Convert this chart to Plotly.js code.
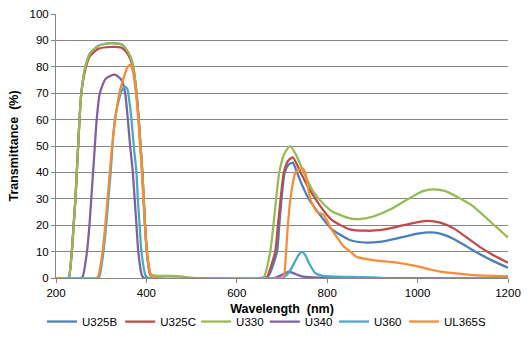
<!DOCTYPE html>
<html>
<head>
<meta charset="utf-8">
<script src="https://cdn.plot.ly/plotly-3.0.1.min.js"></script>
<style>html,body{margin:0;padding:0;background:#fff;}#chart{width:530px;height:360px;}</style>
</head>
<body>
<div id="chart"></div>
<script>
// Series names
const seriesNames = ["U325B", "U325C", "U330", "U340", "U360", "UL365S"];

// U325B
const u325bWl = [200,226,229,235,239,243,246,249,252,256,265,275,294,320,345,356,364,371,378,383,387,391,394,397,401,408,415,600,660,671,689,694,699,706,715,724,733,745,759,781,810,850,887,920,954,1000,1027,1050,1080,1110,1140,1170,1200];
const u325bT  = [0,0,0.5,10,20,30,40,50,60,70,80,85,88,89,88.5,86.4,84,80,70,60,50,40,30,20,10,1.5,0,0,0,1,10,20,30,40,43,43.7,40,35,30,24.6,18.5,14.4,13.4,13.8,15,16.8,17.3,16.8,14.8,11.8,8.8,6.2,3.9];

// U325C
const u325cWl = [200,226,229,235,239,243,246,249,252,256,265,275,294,320,345,356,364,371,378,383,387,391,394,397,401,408,415,600,665,669,685,691,697,704,714,724,741,756,774,790,810,850,887,920,954,990,1020,1050,1080,1110,1140,1170,1200];
const u325cT  = [0,0,0.5,10,20,30,40,50,60,70,79,84,86.8,87.5,87.2,85.5,83,79,70,60,50,40,30,20,10,1.5,0,0,0,1,10,20,30,40,44.5,45.7,40,35,30,26,22,18.4,17.9,18.2,19.4,20.8,21.6,21,18.8,15.2,11.5,8.4,5.8];

// U330
const u330Wl = [200,226,229,235,239,243,246,249,252,256,265,275,294,320,345,356,364,371,378,383,387,391,394,397,401,408,415,440,470,490,510,600,650,660,674,681,687,694,705,718,730,748,770,792,810,850,870,900,940,980,1010,1035,1060,1090,1120,1160,1200];
const u330T  = [0,0,0.5,10,20,30,40,50,60,70,80,85,88,89,88.5,86.5,84,80,70,60,50,40,30,20,10,2,1,0.8,0.7,0.3,0,0,0,0.5,10,20,30,40,47,50,47,40,32.5,28,25.3,22.6,22.3,23.2,26,30,32.8,33.6,33,30.5,27.5,21.5,15.3];

// U340
const u340Wl = [200,255,259,268.6,274,278,282,286,290,297,310,330,345,353,359,364,370,374,378,382,390,395,600,680,687,700,715,730,744,770,800,1200];
const u340T  = [0,0,0.5,10,20,30,40,50,60,70,75.5,77,75,70,60,50,40,30,20,10,1,0,0,0,0.2,1.2,2.4,1.5,0.6,0.2,0,0];

// U360
const u360Wl = [200,292,296,305,311,316,321,325,330,340,347,353,358,363,367,372,378,381,385,389,398,405,600,700,704,715,728,737,744,751,760,774,790,820,850,900,930,1200];
const u360T  = [0,0,0.5,10,20,30,40,50,60,68,71.5,72.5,71.5,66,60,50,40,30,20,10,1,0,0,0,0.3,2,6,8.8,9.9,8.8,5.5,1.8,0.8,0.5,0.4,0.2,0,0];

// UL365S
const ul365sWl = [200,289,293,303,309,314,319,324,331,340,350,357,364,369,377,382,386,390,393,397,401,410,416,600,700,704,709,713,718.5,730,740,746,752,762.5,777,792,810,821,836,850,865,902,954,998,1027,1050,1101,1123,1200];
const ul365sT  = [0,0,0.5,10,20,30,40,50,60,70,76,79.5,80.7,79,70,60,50,40,30,20,10,1,0,0,0,0.5,10,20,30,40,41.3,41.5,39.5,30,25.1,23.9,18.2,15.6,12,10.2,8,6.8,5.8,4.5,3.3,2.4,1.5,1.1,0.7];

// Axis ticks
const xTicks = [200, 400, 600, 800, 1000, 1200];
const yTicks = [0,10,20,30,40,50,60,70,80,90,100];

const colors = ["#4A7EBB", "#BE4B48", "#98B954", "#7D60A0", "#46AAC5", "#F68C36"];
const xs = [u325bWl, u325cWl, u330Wl, u340Wl, u360Wl, ul365sWl];
const ys = [u325bT, u325cT, u330T, u340T, u360T, ul365sT];
const legendIds = ["legend", "legend2", "legend3", "legend4", "legend5", "legend6"];
// left edge (paper fraction) of each legend entry
const legendX = [-0.031, 0.142, 0.310, 0.462, 0.615, 0.770];

const traces = seriesNames.map((n, i) => ({
  type: "scatter",
  mode: "lines",
  name: n,
  x: xs[i],
  y: ys[i],
  legend: legendIds[i],
  line: {color: colors[i], width: 2.25, shape: "spline", smoothing: 0.6},
  hoverinfo: "skip"
}));

const font = "Liberation Sans, Arial, sans-serif";
const layout = {
  width: 530, height: 360,
  margin: {l: 56, r: 22, t: 14, b: 82},
  paper_bgcolor: "#fff", plot_bgcolor: "#fff",
  font: {family: font, size: 11.5, color: "#000"},
  showlegend: true,
  xaxis: {
    range: [200, 1200], tickvals: xTicks, ticktext: xTicks.map(String),
    showgrid: false, zeroline: false,
    showline: true, linecolor: "#868686", linewidth: 1,
    ticks: "outside", ticklen: 4, tickcolor: "#868686",
    tickfont: {family: font, size: 11.5, color: "#000"},
    title: {text: "<b>Wavelength  (nm)</b>", font: {family: font, size: 12.5, color: "#000"}, standoff: 6}
  },
  yaxis: {
    range: [0, 100], tickvals: yTicks, ticktext: yTicks.map(String),
    showgrid: true, gridcolor: "#868686", gridwidth: 1, zeroline: false,
    showline: true, linecolor: "#868686", linewidth: 1,
    ticks: "outside", ticklen: 4, tickcolor: "#868686",
    tickfont: {family: font, size: 11.5, color: "#000"},
    title: {text: "<b>Transmittance  (%)</b>", font: {family: font, size: 12.5, color: "#000"}, standoff: 8}
  }
};
legendIds.forEach((id, i) => {
  layout[id] = {
    orientation: "h", x: legendX[i], xanchor: "left", y: -0.11, yanchor: "top",
    font: {family: font, size: 11.5, color: "#000"},
    bgcolor: "rgba(0,0,0,0)", itemwidth: 30
  };
});

Plotly.newPlot("chart", traces, layout, {displayModeBar: false, staticPlot: true});
</script>
</body>
</html>
